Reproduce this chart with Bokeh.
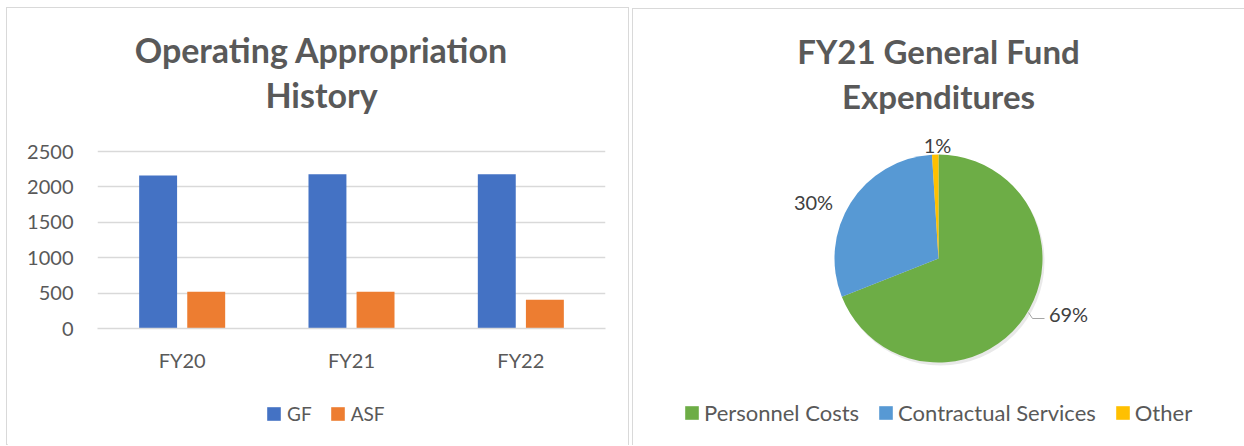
import math
from bokeh.plotting import figure
from bokeh.models import (Range1d, FactorRange, Label, Legend, LegendItem,
                          ColumnDataSource, FixedTicker)
from bokeh.transform import dodge
from bokeh.layouts import row, column
from bokeh.embed import file_html
from bokeh.resources import INLINE

# ---------------- data ----------------
years = ["FY20", "FY21", "FY22"]
gf_values = [2160, 2180, 2180]
asf_values = [518, 518, 405]
y_ticks = [0, 500, 1000, 1500, 2000, 2500]
series_names = ["GF", "ASF"]
series_colors = ["#4472C4", "#ED7D31"]

pie_categories = ["Personnel Costs", "Contractual Services", "Other"]
pie_values = [69, 30, 1]
pie_pct_labels = ["69%", "30%", "1%"]
pie_colors = ["#6DAD46", "#5799D4", "#FFC000"]

# ---------------- style ----------------
FONT = "Lato"
TXT = "#595959"
GRID = "#d9d9d9"
BORDER = "1px solid #d9d9d9"
TITLE_SIZE = "33px"

# ---------------- left: bar chart ----------------
src = ColumnDataSource(dict(year=years, gf=gf_values, asf=asf_values))

# frame spans from the canvas top down to the zero line; the extra y room
# above 2500 holds the title (ticks/grid stop at 2500)
px_per_unit = 177 / 2500
y_top = 320 / px_per_unit

p1 = figure(x_range=FactorRange(*years), y_range=Range1d(0, y_top),
            width=623, height=377, output_backend="svg", toolbar_location=None,
            min_border_left=90, min_border_right=25, min_border_top=0,
            min_border_bottom=57, outline_line_color=None, margin=(7, 0, 0, 6))
p1.frame_align = False
p1.styles = {"border-left": BORDER, "border-top": BORDER, "border-right": BORDER}

r_gf = p1.vbar(x=dodge("year", -0.142, range=p1.x_range), top="gf", width=0.224,
               source=src, fill_color=series_colors[0], line_color=None)
r_asf = p1.vbar(x=dodge("year", 0.142, range=p1.x_range), top="asf", width=0.224,
                source=src, fill_color=series_colors[1], line_color=None)

p1.xgrid.grid_line_color = None
p1.ygrid.grid_line_color = GRID
p1.ygrid.grid_line_width = 1.5
p1.yaxis.ticker = FixedTicker(ticks=y_ticks)
for ax in (p1.xaxis, p1.yaxis):
    ax.major_tick_line_color = None
    ax.minor_tick_line_color = None
    ax.major_tick_out = 0
    ax.major_label_text_font = FONT
    ax.major_label_text_font_size = "20px"
    ax.major_label_text_color = TXT
p1.yaxis.axis_line_color = None
p1.xaxis.axis_line_color = GRID
p1.xaxis.axis_line_width = 1.5
p1.yaxis.major_label_standoff = 24
p1.xaxis.major_label_standoff = 19

for txt, yy in (("Operating Appropriation", 279), ("History", 234)):
    p1.add_layout(Label(x=224, y=yy, x_units="screen", y_units="screen", text=txt,
                        text_align="center", text_baseline="middle",
                        text_font=FONT, text_font_style="bold",
                        text_font_size="34px", text_color=TXT))

# legend strip below the bar chart (key swatches come from off-frame stand-ins)
pl = figure(x_range=Range1d(0, 623), y_range=Range1d(0, 61),
            width=623, height=61, output_backend="svg", toolbar_location=None,
            min_border=0, outline_line_color=None, margin=(0, 0, 0, 6))
pl.frame_align = False
pl.styles = {"border-left": BORDER, "border-right": BORDER}
pl.axis.visible = False
pl.grid.grid_line_color = None
key_renderers = [pl.vbar(x=[-1000], top=[1], width=1, fill_color=c, line_color=None)
                 for c in series_colors]
leg1 = Legend(items=[LegendItem(label=n, renderers=[r])
                     for n, r in zip(series_names, key_renderers)],
              orientation="horizontal", location=(258, 20),
              border_line_color=None, background_fill_alpha=0,
              padding=0, margin=0, glyph_width=17, glyph_height=17,
              label_standoff=5, spacing=17,
              label_text_font=FONT, label_text_font_size="19px",
              label_text_color=TXT)
pl.add_layout(leg1, "center")

# ---------------- right: pie chart ----------------
p2 = figure(x_range=Range1d(0, 612), y_range=Range1d(0, 437),
            width=612, height=437, output_backend="svg", toolbar_location=None,
            min_border=0, outline_line_color=None, margin=(8, 0, 0, 3))
p2.frame_align = False
p2.styles = {"border-left": BORDER, "border-top": BORDER}
p2.axis.visible = False
p2.grid.grid_line_color = None

cx, cy, rad = 305, 188, 104
total = sum(pie_values)
starts, ends, acc = [], [], 0.0
for v in pie_values:
    starts.append(math.pi / 2 - 2 * math.pi * acc / total)
    acc += v
    ends.append(math.pi / 2 - 2 * math.pi * acc / total)

pie_src = ColumnDataSource(dict(cat=pie_categories, val=pie_values,
                                start=starts, end=ends, color=pie_colors))
# soft shadow
p2.circle(x=cx + 2, y=cy - 3, radius=rad, fill_color="#bfbfbf", fill_alpha=0.35,
          line_color=None)
r_pie = p2.wedge(x=cx, y=cy, radius=rad, start_angle="start", end_angle="end",
                 direction="clock", fill_color="color", line_color=None,
                 source=pie_src)

label_x = [435, 180, 304]
label_y = [133, 245, 302]
for t, lx, ly in zip(pie_pct_labels, label_x, label_y):
    p2.add_layout(Label(x=lx, y=ly, text=t, text_align="center",
                        text_baseline="middle", text_font=FONT,
                        text_font_size="20px", text_color="#404040"))
p2.line(x=[395, 399, 411], y=[134, 128, 128], line_color="#a6a6a6", line_width=1)

for txt, yy in (("FY21 General Fund", 396), ("Expenditures", 351)):
    p2.add_layout(Label(x=305, y=yy, text=txt,
                        text_align="center", text_baseline="middle",
                        text_font=FONT, text_font_style="bold",
                        text_font_size=TITLE_SIZE, text_color=TXT))

leg2 = Legend(items=[LegendItem(label=c, renderers=[r_pie], index=i)
                     for i, c in enumerate(pie_categories)],
              orientation="horizontal", location=(50, 20),
              border_line_color=None, background_fill_alpha=0,
              padding=0, margin=0, glyph_width=17, glyph_height=17,
              label_standoff=4, spacing=18,
              label_text_font=FONT, label_text_font_size="22px",
              label_text_color=TXT)
p2.add_layout(leg2, "center")

layout = row(column(p1, pl, spacing=0), p2, spacing=0)
open("out.html", "w").write(file_html(layout, INLINE))
